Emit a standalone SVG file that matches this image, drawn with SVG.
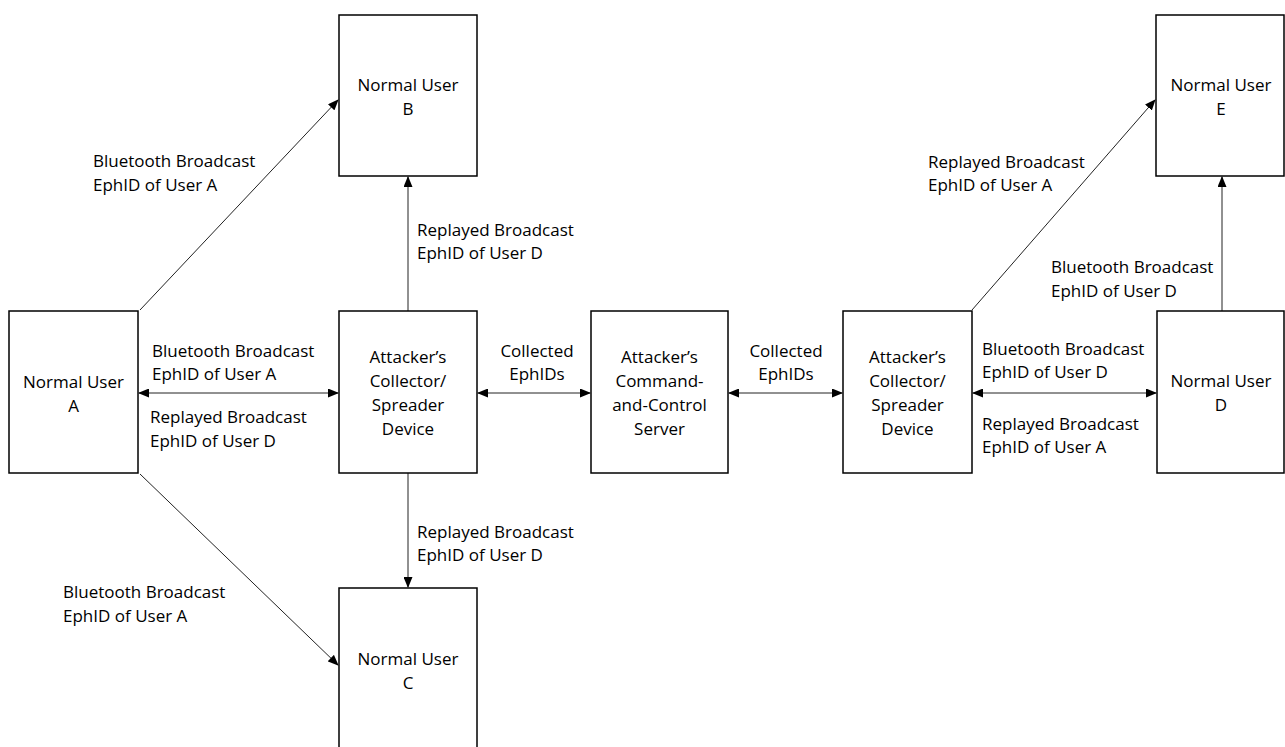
<svg xmlns="http://www.w3.org/2000/svg" width="1285" height="747" viewBox="0 0 1285 747">
<style>
.box{fill:#fff;stroke:#000;stroke-width:1.5}
.t{font-family:"Open Sans","Liberation Sans",sans-serif;font-size:17px;fill:#000}
.c{text-anchor:middle}
.ln{stroke:#222;stroke-width:1;fill:none}
</style>
<defs>
<marker id="ah" markerUnits="userSpaceOnUse" markerWidth="11" markerHeight="9" refX="10" refY="4.5" orient="auto-start-reverse" viewBox="0 0 11 9">
<path d="M0,0 L11,4.5 L0,9 z" fill="#000"/>
</marker>
</defs>
<rect width="1285" height="747" fill="#fff"/>
<g id="connectors">
<line class="ln" x1="140" y1="310" x2="338" y2="100" marker-end="url(#ah)"/>
<line class="ln" x1="140" y1="474" x2="338" y2="665" marker-end="url(#ah)"/>
<line class="ln" x1="972" y1="310" x2="1155" y2="100" marker-end="url(#ah)"/>
<line class="ln" x1="139" y1="393" x2="338" y2="393" marker-start="url(#ah)" marker-end="url(#ah)"/>
<line class="ln" x1="478" y1="393" x2="590" y2="393" marker-start="url(#ah)" marker-end="url(#ah)"/>
<line class="ln" x1="729" y1="393" x2="842" y2="393" marker-start="url(#ah)" marker-end="url(#ah)"/>
<line class="ln" x1="973" y1="393" x2="1156" y2="393" marker-start="url(#ah)" marker-end="url(#ah)"/>
<line class="ln" x1="408" y1="311" x2="408" y2="177" marker-end="url(#ah)"/>
<line class="ln" x1="408" y1="473" x2="408" y2="587" marker-end="url(#ah)"/>
<line class="ln" x1="1222" y1="311" x2="1222" y2="177" marker-end="url(#ah)"/>
<text class="t" x="93" y="167">Bluetooth Broadcast</text>
<text class="t" x="93" y="191">EphID of User A</text>
<text class="t" x="63" y="598">Bluetooth Broadcast</text>
<text class="t" x="63" y="622">EphID of User A</text>
<text class="t" x="152" y="357">Bluetooth Broadcast</text>
<text class="t" x="152" y="380">EphID of User A</text>
<text class="t" x="150" y="423">Replayed Broadcast</text>
<text class="t" x="150" y="447">EphID of User D</text>
<text class="t" x="417" y="236">Replayed Broadcast</text>
<text class="t" x="417" y="259">EphID of User D</text>
<text class="t" x="417" y="538">Replayed Broadcast</text>
<text class="t" x="417" y="561">EphID of User D</text>
<text class="t c" x="537" y="357">Collected</text>
<text class="t c" x="537" y="380">EphIDs</text>
<text class="t c" x="786" y="357">Collected</text>
<text class="t c" x="786" y="380">EphIDs</text>
<text class="t" x="928" y="168">Replayed Broadcast</text>
<text class="t" x="928" y="191">EphID of User A</text>
<text class="t" x="1051" y="273">Bluetooth Broadcast</text>
<text class="t" x="1051" y="297">EphID of User D</text>
<text class="t" x="982" y="355">Bluetooth Broadcast</text>
<text class="t" x="982" y="378">EphID of User D</text>
<text class="t" x="982" y="430">Replayed Broadcast</text>
<text class="t" x="982" y="453">EphID of User A</text>
</g>
<g id="userA">
<rect class="box" x="9" y="311" width="129" height="162"/>
<text class="t c" x="73.5" y="388">Normal User</text>
<text class="t c" x="73.5" y="412">A</text>
</g>
<g id="userB">
<rect class="box" x="339" y="15" width="138" height="161"/>
<text class="t c" x="408" y="91">Normal User</text>
<text class="t c" x="408" y="115">B</text>
</g>
<g id="userC">
<rect class="box" x="339" y="588" width="138" height="170"/>
<text class="t c" x="408" y="665">Normal User</text>
<text class="t c" x="408" y="689">C</text>
</g>
<g id="attackerLeft">
<rect class="box" x="339" y="311" width="138" height="162"/>
<text class="t c" x="408" y="363">Attacker’s</text>
<text class="t c" x="408" y="387">Collector/</text>
<text class="t c" x="408" y="411">Spreader</text>
<text class="t c" x="408" y="435">Device</text>
</g>
<g id="server">
<rect class="box" x="591" y="311" width="137" height="162"/>
<text class="t c" x="659.5" y="363">Attacker’s</text>
<text class="t c" x="659.5" y="387">Command-</text>
<text class="t c" x="659.5" y="411">and-Control</text>
<text class="t c" x="659.5" y="435">Server</text>
</g>
<g id="attackerRight">
<rect class="box" x="843" y="311" width="129" height="162"/>
<text class="t c" x="907.5" y="363">Attacker’s</text>
<text class="t c" x="907.5" y="387">Collector/</text>
<text class="t c" x="907.5" y="411">Spreader</text>
<text class="t c" x="907.5" y="435">Device</text>
</g>
<g id="userD">
<rect class="box" x="1157" y="311" width="127" height="162"/>
<text class="t c" x="1221" y="387">Normal User</text>
<text class="t c" x="1221" y="411">D</text>
</g>
<g id="userE">
<rect class="box" x="1156" y="15" width="128" height="161"/>
<text class="t c" x="1221" y="91">Normal User</text>
<text class="t c" x="1221" y="115">E</text>
</g>
</svg>
